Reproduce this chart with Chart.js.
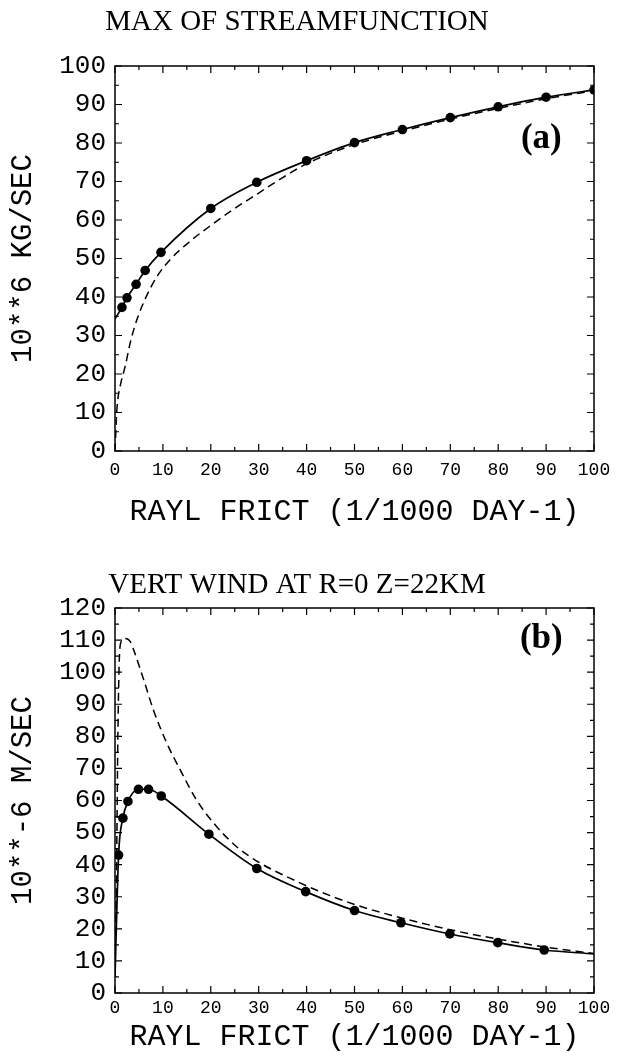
<!DOCTYPE html>
<html>
<head>
<meta charset="utf-8">
<script src="https://cdn.jsdelivr.net/npm/chart.js@4.4.0/dist/chart.umd.min.js"></script>
<style>
    html, body { margin: 0; padding: 0; background: #fff; }
    #wrap { position: relative; width: 624px; height: 1057px; }
    .panel { position: absolute; left: 0; width: 624px; }
    #panelA { top: 0; height: 530px; }
    #panelB { top: 530px; height: 527px; }
</style>
</head>
<body>
<div id="wrap">
    <div class="panel" id="panelA"><canvas id="chartA" width="624" height="530"></canvas></div>
    <div class="panel" id="panelB"><canvas id="chartB" width="624" height="527"></canvas></div>
</div>
<script>
// Панель (a): максимум функции тока, 10**6 кг/с
const fricA = [0, 1.45, 2.5, 4.4, 6.3, 9.6, 20, 29.6, 40, 50, 60, 70, 80, 90, 100];
const psiA = [34.3, 37.3, 39.8, 43.3, 46.9, 51.6, 63, 69.8, 75.4, 80.1, 83.5, 86.6, 89.4, 91.9, 93.8];
const fricAdash = [0, 0.4, 1.1, 2.15, 3.2, 4.6, 6.3, 8.75, 11.5, 15.7, 20, 25, 30, 35, 40, 50, 60, 70, 80, 90, 100];
const psiAdash = [0, 10.9, 16.9, 22.1, 28.2, 34.2, 39.5, 45.3, 49.7, 54.5, 58.6, 63, 67, 71, 74.6, 79.6, 83.1, 86.2, 89, 91.5, 93.6];

// Панель (b): вертикальный ветер при R=0, Z=22 км, 10**-6 м/с
const fricB = [0, 0.75, 1.65, 2.7, 4.9, 7.0, 9.65, 19.6, 29.6, 39.8, 50, 59.7, 69.9, 79.9, 89.6, 100];
const wB = [5, 43.0, 54.5, 59.7, 63.5, 63.5, 61.4, 49.5, 38.8, 31.6, 25.7, 21.9, 18.4, 15.7, 13.4, 12.2];
const fricBdash = [0, 0.3, 0.6, 0.9, 1.3, 2.2, 3.2, 4, 6, 8, 10.8, 13.6, 17, 21.2, 25.4, 30.3, 36.5, 42, 50, 60, 70, 80, 90, 100];
const wBdash = [10, 35, 80, 104, 109.5, 110.5, 109.5, 106.5, 97.6, 88.3, 77.9, 69.6, 60.2, 51.9, 45.6, 40.5, 35.8, 32.1, 27.6, 23.3, 19.7, 16.8, 14.3, 12.3];

const xTitle = 'RAYL FRICT (1/1000 DAY-1)';
const MONO = '"Liberation Mono", "DejaVu Sans Mono", monospace';
const SERIF = '"Liberation Serif", "DejaVu Serif", serif';

function toPoints(xs, ys) {
    return xs.map((x, i) => ({ x: x, y: ys[i] }));
}

// Рамка вокруг области графика, внутренние засечки и метка панели
const frameTicks = {
    id: 'frameTicks',
    afterDatasetsDraw(chart, args, opts) {
        const { ctx, chartArea: a, scales: { x, y } } = chart;
        ctx.save();
        ctx.strokeStyle = '#000';
        ctx.lineWidth = 1.5;
        ctx.strokeRect(a.left, a.top, a.right - a.left, a.bottom - a.top);
        ctx.lineWidth = 1.2;
        ctx.beginPath();
        for (let v = x.min; v <= x.max; v += 5) {
            const px = x.getPixelForValue(v);
            const len = v % 10 === 0 ? 7 : 4;
            ctx.moveTo(px, a.bottom); ctx.lineTo(px, a.bottom - len);
            ctx.moveTo(px, a.top); ctx.lineTo(px, a.top + len);
        }
        for (let v = y.min; v <= y.max; v += 5) {
            const py = y.getPixelForValue(v);
            const len = v % 10 === 0 ? 7 : 4;
            ctx.moveTo(a.left, py); ctx.lineTo(a.left + len, py);
            ctx.moveTo(a.right, py); ctx.lineTo(a.right - len, py);
        }
        ctx.stroke();
        ctx.fillStyle = '#000';
        ctx.font = 'bold 35px ' + SERIF;
        ctx.textAlign = 'center';
        ctx.textBaseline = 'middle';
        ctx.fillText(opts.label, x.getPixelForValue(opts.at[0]), y.getPixelForValue(opts.at[1]));
        ctx.restore();
    }
};

function makePanel(canvasId, p) {
    const ctx = document.getElementById(canvasId).getContext('2d');
    return new Chart(ctx, {
        type: 'line',
        data: {
            datasets: [{
                data: toPoints(p.solidX, p.solidY),
                borderColor: '#000',
                backgroundColor: '#000',
                borderWidth: 1.7,
                cubicInterpolationMode: 'monotone',
                pointRadius: c => (p.bare.includes(c.raw.x) ? 0 : 4.8),
                pointBorderWidth: 0,
                fill: false
            }, {
                data: toPoints(p.dashX, p.dashY),
                borderColor: '#000',
                borderWidth: 1.5,
                borderDash: [8, 5],
                cubicInterpolationMode: 'monotone',
                pointRadius: 0,
                fill: false
            }]
        },
        options: {
            responsive: false,
            animation: false,
            layout: { padding: { left: 0, right: 30, top: 0, bottom: 0 } },
            plugins: {
                legend: { display: false },
                tooltip: { enabled: false },
                title: {
                    display: true,
                    text: p.title,
                    color: '#000',
                    font: { family: SERIF, size: 29, weight: 'normal', lineHeight: 1 },
                    padding: p.titlePad
                },
                frameTicks: { label: p.label, at: p.labelAt }
            },
            scales: {
                x: {
                    type: 'linear',
                    min: 0,
                    max: 100,
                    afterFit: s => { s.height = p.xHeight; },
                    grid: { display: false, drawTicks: false },
                    border: { display: false },
                    ticks: {
                        stepSize: 10,
                        color: '#000',
                        padding: p.xTickPad,
                        maxRotation: 0,
                        autoSkip: false,
                        font: { family: MONO, size: 18, lineHeight: 1 }
                    },
                    title: {
                        display: true,
                        text: xTitle,
                        color: '#000',
                        font: { family: MONO, size: 30, lineHeight: 1 },
                        padding: { top: 0, bottom: p.xTitlePad }
                    }
                },
                y: {
                    type: 'linear',
                    min: 0,
                    max: p.yMax,
                    afterFit: s => { s.width = 115; },
                    grid: { display: false, drawTicks: false },
                    border: { display: false },
                    ticks: {
                        stepSize: 10,
                        color: '#000',
                        padding: 9,
                        font: { family: MONO, size: 26, lineHeight: 1 }
                    },
                    title: {
                        display: true,
                        text: p.yTitle,
                        color: '#000',
                        font: { family: MONO, size: 29, lineHeight: 1 },
                        padding: { top: 9, bottom: 0 }
                    }
                }
            }
        },
        plugins: [frameTicks]
    });
}

makePanel('chartA', {
    title: 'MAX OF STREAMFUNCTION',
    yTitle: '10**6 KG/SEC',
    yMax: 100,
    solidX: fricA, solidY: psiA,
    dashX: fricAdash, dashY: psiAdash,
    bare: [0],
    label: '(a)', labelAt: [89, 81],
    titlePad: { top: 8, bottom: 29 },
    xHeight: 79, xTickPad: 10, xTitlePad: 3
});

makePanel('chartB', {
    title: 'VERT WIND AT R=0 Z=22KM',
    yTitle: '10**-6 M/SEC',
    yMax: 120,
    solidX: fricB, solidY: wB,
    dashX: fricBdash, dashY: wBdash,
    bare: [0, 100],
    label: '(b)', labelAt: [89, 110.5],
    titlePad: { top: 41, bottom: 8 },
    xHeight: 64, xTickPad: 6, xTitlePad: 5
});
</script>
</body>
</html>
